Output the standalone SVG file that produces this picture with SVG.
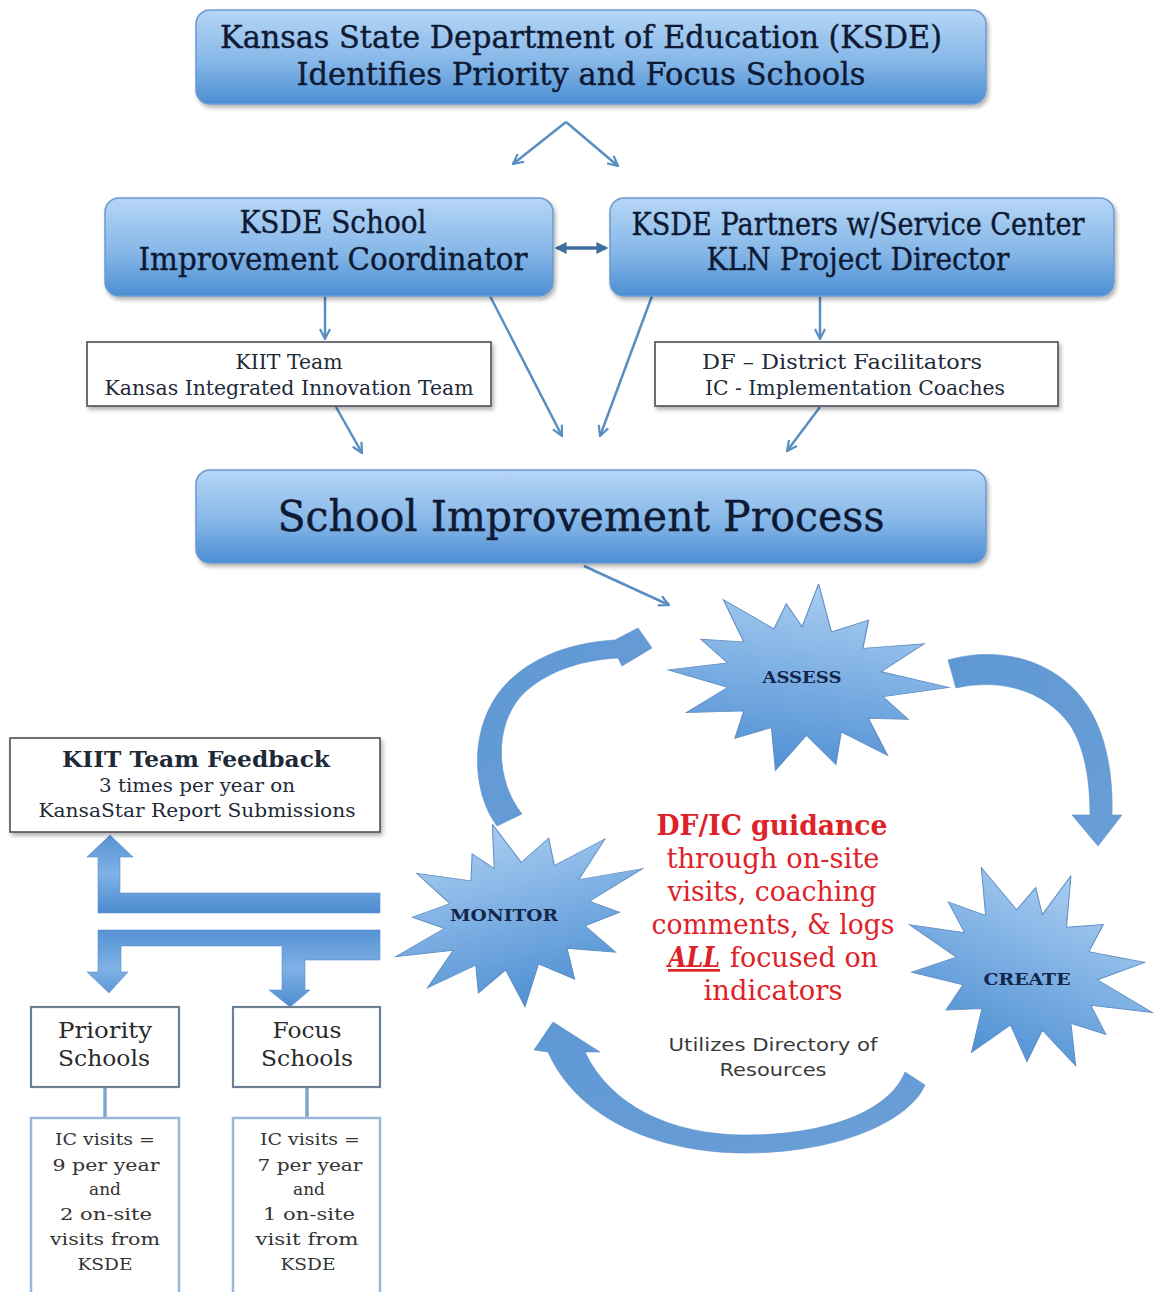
<svg xmlns="http://www.w3.org/2000/svg" width="1161" height="1292" viewBox="0 0 1161 1292">
  <defs>
    <linearGradient id="boxFill" x1="0" y1="0" x2="0" y2="1">
      <stop offset="0" stop-color="#b6d6f6"/>
      <stop offset="0.55" stop-color="#86b7e8"/>
      <stop offset="1" stop-color="#4c8ed3"/>
    </linearGradient>
    <linearGradient id="burstFill" x1="0" y1="0" x2="0" y2="1">
      <stop offset="0" stop-color="#a9cdf1"/>
      <stop offset="1" stop-color="#4f90d4"/>
    </linearGradient>
    <linearGradient id="blockFill" x1="0" y1="0" x2="0" y2="1">
      <stop offset="0" stop-color="#5592d3"/>
      <stop offset="0.5" stop-color="#7fb1e6"/>
      <stop offset="1" stop-color="#4d8bcf"/>
    </linearGradient>
    <linearGradient id="curveFill" x1="0" y1="0" x2="1" y2="1">
      <stop offset="0" stop-color="#5e98d4"/>
      <stop offset="1" stop-color="#6a9ed6"/>
    </linearGradient>
    <filter id="shadow" x="-5%" y="-10%" width="110%" height="130%">
      <feDropShadow dx="2" dy="3" stdDeviation="2" flood-color="#000" flood-opacity="0.3"/>
    </filter>
    <marker id="vhead" viewBox="0 0 12 12" refX="11" refY="6" markerWidth="12" markerHeight="12" markerUnits="userSpaceOnUse" orient="auto-start-reverse">
      <path d="M1,1 L11,6 L1,11" fill="none" stroke="#5a8ec3" stroke-width="2.2"/>
    </marker>
    <marker id="dhead" viewBox="0 0 10 10" refX="8" refY="5" markerWidth="12" markerHeight="12" markerUnits="userSpaceOnUse" orient="auto-start-reverse">
      <path d="M0,0 L10,5 L0,10 Z" fill="#3f6f9f"/>
    </marker>
    <path id="burst" d="M0,-100 L13.3,-53.4 L37.6,-70.6 L36.4,-41.2 L77.8,-54.5 L51.2,-20.2 L99,-13.9 L54.8,4.8 L74.2,24.1 L46.9,28.7 L63.6,63.6 L29.6,46.4 L29.1,79.9 L6.2,54.6 L-11.6,94.3 L-18.4,51.8 L-42.4,67.8 L-38.9,38.9 L-78,48.8 L-52.2,17.5 L-94.6,8.3 L-54.5,-7.2 L-75.2,-27.4 L-45.6,-30.8 L-63.6,-70.6 L-26.2,-48.3 L-20.2,-75.3 L-7.2,-54.5 Z"/>
    <style>
      .bluebox { fill: url(#boxFill); stroke: #6b9bcf; stroke-width: 1.5; filter: url(#shadow); }
      .plainbox { fill: #ffffff; stroke: #4a4f57; stroke-width: 1.6; filter: url(#shadow); }
      .schoolbox { fill: #ffffff; stroke: #6d7f93; stroke-width: 2.2; }
      .detailbox { fill: #ffffff; stroke: #98b8dc; stroke-width: 2.5; }
      .burst { fill: url(#burstFill); stroke: #5f8ec2; stroke-width: 0.8; }
      .head { font-family: "DejaVu Serif", "Liberation Serif", serif; font-size: 31px; fill: #0e1a33; stroke: #0e1a33; stroke-width: 0.4; text-anchor: middle; }
      .small { font-family: "DejaVu Serif", "Liberation Serif", serif; font-size: 20px; fill: #1e2a38; text-anchor: middle; }
      .star { font-family: "DejaVu Serif", "Liberation Serif", serif; font-size: 17px; font-weight: bold; fill: #13254a; text-anchor: middle; }
      .red { font-family: "DejaVu Serif", "Liberation Serif", serif; font-size: 27px; fill: #de2229; text-anchor: middle; }
      .gray { font-family: "DejaVu Sans", "Liberation Sans", sans-serif; font-size: 18px; fill: #3a3a3a; text-anchor: middle; }
      .school { font-family: "DejaVu Serif", "Liberation Serif", serif; font-size: 22px; fill: #2a2a2a; text-anchor: middle; }
      .detail { font-family: "DejaVu Serif", "Liberation Serif", serif; font-size: 17px; fill: #333333; text-anchor: middle; }
      .link { fill: none; stroke: #5a8ec3; stroke-width: 2.5; marker-end: url(#vhead); }
      .block { fill: url(#blockFill); stroke: #5a8fcb; stroke-width: 0.6; }
      .curve { fill: url(#curveFill); stroke: #5b8fc8; stroke-width: 0.6; }
      .stem { stroke: #7ea6d0; stroke-width: 3.5; }
    </style>
  </defs>

  <rect width="1161" height="1292" fill="#ffffff"/>

  <!-- connectors -->
  <g id="connectors">
    <path class="link" d="M566,122 L513,164"/>
    <path class="link" d="M566,122 L618,166"/>
    <path d="M557,248 L606,248" fill="none" stroke="#3f6f9f" stroke-width="3.5" marker-start="url(#dhead)" marker-end="url(#dhead)"/>
    <path class="link" d="M325,296 L325,339"/>
    <path class="link" d="M490,296 L562,436"/>
    <path class="link" d="M652,296 L600,436"/>
    <path class="link" d="M820,296 L820,339"/>
    <path class="link" d="M336,407 L362,453"/>
    <path class="link" d="M820,407 L787,451"/>
    <path class="link" d="M584,566 L669,605"/>

    <!-- cycle arrows -->
    <path class="curve" d="M497,826 C470,790 468,720 510,680 C540,652 580,642 615,640 L638,628 L652,648 L622,666 L618,658 C580,660 545,672 522,695 C494,725 495,780 522,814 Z"/>
    <path class="curve" d="M948,660 C1000,645 1060,660 1090,710 C1108,740 1113,780 1112,815 L1122,815 L1098,846 L1072,815 L1090,815 C1090,775 1083,745 1070,725 C1045,690 1000,678 956,688 Z"/>
    <path class="curve" d="M905,1072 C890,1110 830,1135 745,1135 C670,1135 610,1105 585,1052 L600,1052 L553,1022 L534,1050 L548,1052 C578,1120 660,1153 745,1153 C840,1153 910,1120 925,1085 Z"/>

    <!-- monitor output arrows -->
    <path class="block" d="M98,913 L380,913 L380,893 L120,893 L120,857 L133,857 L110,835 L87,857 L98,857 Z"/>
    <path class="block" d="M98,930 L380,930 L380,960 L305,960 L305,990 L310,990 L290,1007 L269,990 L282,990 L282,946 L121,946 L121,972 L128,972 L109,993 L87,972 L98,972 Z"/>

    <line class="stem" x1="105" y1="1087" x2="105" y2="1118"/>
    <line class="stem" x1="307" y1="1087" x2="307" y2="1118"/>
  </g>

  <g id="ksde">
    <rect class="bluebox" x="196" y="10" width="790" height="94" rx="14"/>
    <text class="head" x="581" y="48" textLength="722" lengthAdjust="spacingAndGlyphs">Kansas State Department of Education (KSDE)</text>
    <text class="head" x="581" y="85" textLength="569" lengthAdjust="spacingAndGlyphs">Identifies Priority and Focus Schools</text>
  </g>

  <g id="coordinator">
    <rect class="bluebox" x="105" y="198" width="448" height="98" rx="14"/>
    <text class="head" x="333" y="233" textLength="187" lengthAdjust="spacingAndGlyphs">KSDE School</text>
    <text class="head" x="333" y="270" textLength="389" lengthAdjust="spacingAndGlyphs">Improvement Coordinator</text>
  </g>

  <g id="partners">
    <rect class="bluebox" x="610" y="198" width="504" height="98" rx="14"/>
    <text class="head" x="858" y="235" textLength="453" lengthAdjust="spacingAndGlyphs">KSDE Partners w/Service Center</text>
    <text class="head" x="858" y="270" textLength="303" lengthAdjust="spacingAndGlyphs">KLN Project Director</text>
  </g>

  <g id="kiit">
    <rect class="plainbox" x="87" y="342" width="404" height="64"/>
    <text class="small" x="289" y="369" textLength="107" lengthAdjust="spacingAndGlyphs">KIIT Team</text>
    <text class="small" x="289" y="395" textLength="369" lengthAdjust="spacingAndGlyphs">Kansas Integrated Innovation Team</text>
  </g>

  <g id="facilitators">
    <rect class="plainbox" x="655" y="342" width="403" height="64"/>
    <text class="small" x="842" y="369" textLength="280" lengthAdjust="spacingAndGlyphs">DF – District Facilitators</text>
    <text class="small" x="855" y="395" textLength="300" lengthAdjust="spacingAndGlyphs">IC - Implementation Coaches</text>
  </g>

  <g id="process">
    <rect class="bluebox" x="196" y="470" width="790" height="93" rx="14"/>
    <text class="head" x="581" y="531" style="font-size:43px" textLength="607" lengthAdjust="spacingAndGlyphs">School Improvement Process</text>
  </g>

  <g id="assess">
    <use href="#burst" class="burst" transform="translate(805,681) rotate(8) scale(1.45,0.98)"/>
    <text class="star" x="802" y="683" textLength="79" lengthAdjust="spacingAndGlyphs">ASSESS</text>
  </g>

  <g id="monitor">
    <use href="#burst" class="burst" transform="translate(517,916) rotate(-15) scale(1.35,0.95)"/>
    <text class="star" x="504" y="921" textLength="108" lengthAdjust="spacingAndGlyphs">MONITOR</text>
  </g>

  <g id="create">
    <use href="#burst" class="burst" transform="translate(1027,970) rotate(25) scale(1.33,1.04)"/>
    <text class="star" x="1027" y="985" textLength="87" lengthAdjust="spacingAndGlyphs">CREATE</text>
  </g>

  <g id="guidance">
    <text class="red" x="772" y="835" font-weight="bold" textLength="231" lengthAdjust="spacingAndGlyphs">DF/IC guidance</text>
    <text class="red" x="773" y="868" textLength="213" lengthAdjust="spacingAndGlyphs">through on-site</text>
    <text class="red" x="772" y="901" textLength="209" lengthAdjust="spacingAndGlyphs">visits, coaching</text>
    <text class="red" x="773" y="934" textLength="243" lengthAdjust="spacingAndGlyphs">comments, &amp; logs</text>
    <text class="red" x="694" y="967" font-weight="bold" font-style="italic" text-decoration="underline" textLength="52" lengthAdjust="spacingAndGlyphs">ALL</text>
    <text class="red" x="804" y="967" textLength="148" lengthAdjust="spacingAndGlyphs">focused on</text>
    <text class="red" x="773" y="1000" textLength="139" lengthAdjust="spacingAndGlyphs">indicators</text>
    <text class="gray" x="773" y="1051" textLength="209" lengthAdjust="spacingAndGlyphs">Utilizes Directory of</text>
    <text class="gray" x="773" y="1076" textLength="107" lengthAdjust="spacingAndGlyphs">Resources</text>
  </g>

  <g id="feedback">
    <rect class="plainbox" x="10" y="738" width="370" height="94"/>
    <text class="small" x="196" y="767" style="font-size:22px;font-weight:bold" textLength="268" lengthAdjust="spacingAndGlyphs">KIIT Team Feedback</text>
    <text class="small" x="197" y="792" style="font-size:18px" textLength="196" lengthAdjust="spacingAndGlyphs">3 times per year on</text>
    <text class="small" x="197" y="817" style="font-size:18px" textLength="317" lengthAdjust="spacingAndGlyphs">KansaStar Report Submissions</text>
  </g>

  <g id="priority">
    <rect class="schoolbox" x="31" y="1007" width="148" height="80"/>
    <text class="school" x="105" y="1038" textLength="94" lengthAdjust="spacingAndGlyphs">Priority</text>
    <text class="school" x="104" y="1066" textLength="92" lengthAdjust="spacingAndGlyphs">Schools</text>
  </g>

  <g id="focus">
    <rect class="schoolbox" x="233" y="1007" width="147" height="80"/>
    <text class="school" x="307" y="1038" textLength="69" lengthAdjust="spacingAndGlyphs">Focus</text>
    <text class="school" x="307" y="1066" textLength="92" lengthAdjust="spacingAndGlyphs">Schools</text>
  </g>

  <g id="priority-visits">
    <rect class="detailbox" x="31" y="1118" width="148" height="180"/>
    <text class="detail" x="105" y="1145" textLength="100" lengthAdjust="spacingAndGlyphs">IC visits =</text>
    <text class="detail" x="106" y="1171" textLength="107" lengthAdjust="spacingAndGlyphs">9 per year</text>
    <text class="detail" x="105" y="1195">and</text>
    <text class="detail" x="106" y="1220" textLength="92" lengthAdjust="spacingAndGlyphs">2 on-site</text>
    <text class="detail" x="105" y="1245" textLength="110" lengthAdjust="spacingAndGlyphs">visits from</text>
    <text class="detail" x="105" y="1270" textLength="55" lengthAdjust="spacingAndGlyphs">KSDE</text>
  </g>

  <g id="focus-visits">
    <rect class="detailbox" x="233" y="1118" width="147" height="180"/>
    <text class="detail" x="310" y="1145" textLength="100" lengthAdjust="spacingAndGlyphs">IC visits =</text>
    <text class="detail" x="310" y="1171" textLength="105" lengthAdjust="spacingAndGlyphs">7 per year</text>
    <text class="detail" x="309" y="1195">and</text>
    <text class="detail" x="309" y="1220" textLength="92" lengthAdjust="spacingAndGlyphs">1 on-site</text>
    <text class="detail" x="307" y="1245" textLength="103" lengthAdjust="spacingAndGlyphs">visit from</text>
    <text class="detail" x="308" y="1270" textLength="55" lengthAdjust="spacingAndGlyphs">KSDE</text>
  </g>
</svg>
